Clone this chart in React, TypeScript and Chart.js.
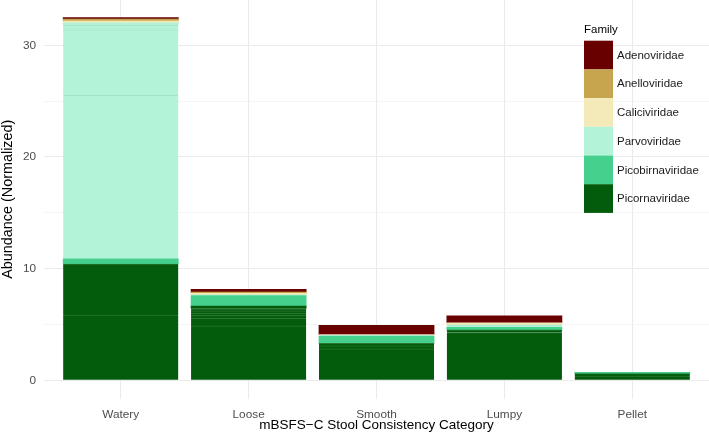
import React, { useEffect, useRef } from 'react';
import { Chart, registerables } from 'chart.js';

Chart.register(...registerables);

const FONT = '"Liberation Sans", Arial, Helvetica, sans-serif';

const categories = ['Watery', 'Loose', 'Smooth', 'Lumpy', 'Pellet'];
const families = ['Adenoviridae', 'Anelloviridae', 'Caliciviridae', 'Parvoviridae', 'Picobirnaviridae', 'Picornaviridae'];
const familyColors = ['#680000', '#C7A54F', '#F4E9B9', '#B3F3D7', '#45D18D', '#025C0C'];
const sampleLineColors = ['#7A1A1A', '#D1B265', '#E9DDAA', '#A3E2C6', '#62D89F', '#2A7530'];
const yTicks = [0, 5, 10, 15, 20, 25, 30];

// sample layers per family (bottom to top), one value per category
const picornaviridae = [
  [5.84, 4.88, 2.82, 4.28, 0.38],
  [4.57, 0.67, 0.27, 0.25, 0.22],
  [0, 0.27, 0.22, 0, 0],
  [0, 0.18, 0, 0, 0],
  [0, 0.22, 0, 0, 0],
  [0, 0.22, 0, 0, 0],
  [0, 0.22, 0, 0, 0],
];
const picobirnaviridae = [[0.48, 0.94, 0.63, 0.22, 0.12]];
const parvoviridae = [
  [14.63, 0.07, 0.09, 0.22, 0],
  [5.88, 0, 0, 0, 0],
  [0.42, 0, 0, 0, 0],
  [0.2, 0, 0, 0, 0],
];
const caliciviridae = [[0.16, 0.12, 0.07, 0.18, 0]];
const anelloviridae = [[0.16, 0.12, 0, 0, 0]];
const adenoviridae = [[0.14, 0.24, 0.84, 0.63, 0]];

const familyLayers = [adenoviridae, anelloviridae, caliciviridae, parvoviridae, picobirnaviridae, picornaviridae];

const legendPlugin = {
  id: 'ggLegend',
  afterDraw(chart: any) {
    const ctx = chart.ctx as CanvasRenderingContext2D;
    const x0 = 584;
    const y0 = 40.7;
    const kh = 28.7;
    const kw = 29;
    ctx.save();
    ctx.font = `11.5px ${FONT}`;
    ctx.fillStyle = '#000000';
    ctx.textBaseline = 'middle';
    ctx.textAlign = 'left';
    ctx.fillText('Family', x0, 29.5);
    families.forEach((name, i) => {
      ctx.fillStyle = familyColors[i];
      ctx.fillRect(x0, y0 + i * kh, kw, kh);
      ctx.fillStyle = '#1a1a1a';
      ctx.fillText(name, x0 + kw + 4, y0 + i * kh + kh / 2 + 0.5);
    });
    ctx.restore();
  },
};

export default function App() {
  const ref = useRef<HTMLCanvasElement>(null);

  useEffect(() => {
    document.body.style.margin = '0';
    const datasets: any[] = [];
    // stack bottom-up: Picornaviridae first, Adenoviridae last
    for (let f = families.length - 1; f >= 0; f--) {
      const layers = familyLayers[f];
      layers.forEach((layer, li) => {
        const isTop = li === layers.length - 1;
        datasets.push({
          label: families[f],
          data: layer.map((v, i) => ({ x: i + 1, y: v === 0 ? null : v })),
          backgroundColor: familyColors[f],
          borderColor: sampleLineColors[f],
          borderWidth: isTop ? 0 : { top: 1, bottom: 0, left: 0, right: 0 },
          borderSkipped: 'start',
          inflateAmount: 0.35,
          categoryPercentage: 0.9,
          barPercentage: 1,
          stack: 'all',
        });
      });
    }

    const chart = new Chart(ref.current as HTMLCanvasElement, {
      type: 'bar',
      data: { datasets },
      options: {
        animation: false,
        responsive: false,
        maintainAspectRatio: false,
        layout: { padding: { top: 0, right: 0, left: 0, bottom: 0 } },
        plugins: { legend: { display: false }, tooltip: { enabled: false } },
        scales: {
          x: {
            type: 'linear',
            stacked: true,
            min: 0.4,
            max: 5.6,
            offset: false,
            afterBuildTicks: (s: any) => {
              s.ticks = categories.map((_, i) => ({ value: i + 1 }));
            },
            afterFit: (s: any) => {
              s.height = 39.5;
              s.paddingLeft = 0;
              s.paddingRight = 0;
            },
            ticks: {
              autoSkip: false,
              maxRotation: 0,
              padding: 9,
              color: '#4D4D4D',
              font: { family: FONT, size: 11.8 },
              callback: (v: any) => categories[Math.round(Number(v)) - 1] ?? '',
            },
            grid: { color: '#EBEBEB', lineWidth: 1.1, drawTicks: false, offset: false },
            border: { display: false },
            title: {
              display: true,
              text: 'mBSFS\u2212C Stool Consistency Category',
              color: '#000000',
              font: { family: FONT, size: 13.5, lineHeight: 1.2 },
              padding: { top: 0, bottom: 4.5 },
            },
          },
          y: {
            type: 'linear',
            stacked: true,
            min: -1.62,
            max: 34.06,
            afterBuildTicks: (s: any) => {
              s.ticks = yTicks.map((v) => ({ value: v }));
            },
            afterFit: (s: any) => {
              s.width = 44;
              s.paddingTop = 0;
              s.paddingBottom = 0;
            },
            ticks: {
              padding: 8,
              color: '#4D4D4D',
              font: { family: FONT, size: 11.8 },
              callback: (v: any) => (Number(v) % 10 === 0 ? String(v) : ''),
            },
            grid: {
              drawTicks: false,
              color: (c: any) => (c.tick && c.tick.value % 10 === 0 ? '#EBEBEB' : '#F2F2F2'),
              lineWidth: (c: any) => (c.tick && c.tick.value % 10 === 0 ? 1.1 : 0.8),
            },
            border: { display: false },
            title: {
              display: true,
              text: 'Abundance (Normalized)',
              color: '#000000',
              font: { family: FONT, size: 14.4, lineHeight: 1.1 },
              padding: { top: 0, bottom: 0 },
            },
          },
        },
      },
      plugins: [legendPlugin],
    });
    return () => chart.destroy();
  }, []);

  return (
    <div style={{ width: 709, height: 438, position: 'relative', background: '#ffffff' }}>
      <canvas ref={ref} width={709} height={438} style={{ display: 'block' }} />
    </div>
  );
}
